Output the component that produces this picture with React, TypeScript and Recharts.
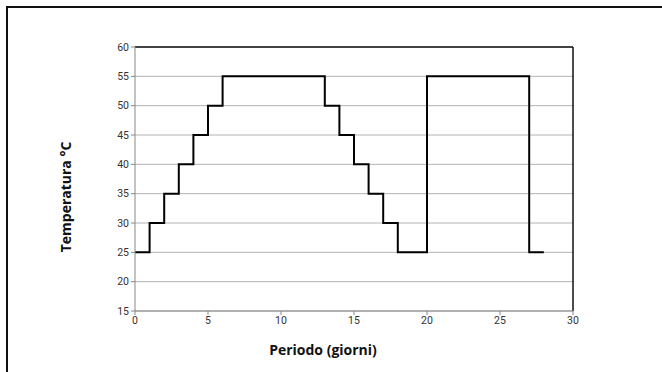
import React from "react";
import { CartesianGrid, Line, LineChart, ReferenceLine, XAxis, YAxis } from "recharts";

const days = [0, 1, 2, 3, 4, 5, 6, 13, 14, 15, 16, 17, 18, 20, 27, 28];
const temps = [25, 30, 35, 40, 45, 50, 55, 50, 45, 40, 35, 30, 25, 55, 25, 25];
const xTicks = [0, 5, 10, 15, 20, 25, 30];
const yTicks = [15, 20, 25, 30, 35, 40, 45, 50, 55, 60];

const data = days.map((d, i) => ({ day: d, temp: temps[i] }));

const tickStyle = { fontSize: 10.5, fill: "#333", fontFamily: "Roboto, sans-serif" };
const titleStyle = { fontSize: 14, fontWeight: "bold", fill: "#111", fontFamily: "'Open Sans', sans-serif" };

export default function App() {
  return (
    <div style={{ position: "fixed", left: 0, top: 0, width: 662, height: 372, overflow: "hidden", background: "#fff" }}>
      <div
        style={{
          position: "absolute",
          left: 6,
          top: 6,
          width: 720,
          height: 420,
          border: "2px solid #111",
          boxSizing: "border-box",
        }}
      />
      <div style={{ position: "absolute", left: 0, top: 0 }}>
        <LineChart width={662} height={372} data={data} margin={{ top: 47, right: 89, bottom: 31, left: 75 }}>
          <CartesianGrid vertical={false} stroke="#b4b4b4" strokeWidth={1} />
          <XAxis
            dataKey="day"
            type="number"
            domain={[0, 30]}
            ticks={xTicks}
            height={30}
            stroke="#888"
            tickSize={4}
            tick={tickStyle}
            label={{
              value: "Periodo (giorni)",
              position: "insideBottom",
              offset: -14,
              dx: -31,
              style: titleStyle,
            }}
          />
          <YAxis
            type="number"
            domain={[15, 60]}
            ticks={yTicks}
            width={60}
            stroke="#888"
            tickSize={4}
            tick={tickStyle}
            label={{
              value: "Temperatura °C",
              angle: -90,
              position: "insideLeft",
              offset: -9,
              dy: 18,
              style: { ...titleStyle, textAnchor: "middle" },
            }}
          />
          <ReferenceLine y={60} stroke="#111" strokeWidth={1.5} />
          <ReferenceLine x={30} stroke="#111" strokeWidth={1.5} />
          <Line
            type="stepAfter"
            dataKey="temp"
            stroke="#000"
            strokeWidth={2}
            dot={false}
            isAnimationActive={false}
          />
        </LineChart>
      </div>
    </div>
  );
}
